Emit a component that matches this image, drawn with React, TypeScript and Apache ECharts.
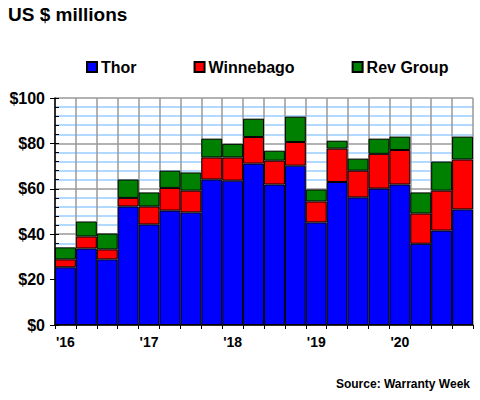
import React, { useEffect, useRef } from "react";
import * as echarts from "echarts";

const categories = [
  "2016Q1", "2016Q2", "2016Q3", "2016Q4",
  "2017Q1", "2017Q2", "2017Q3", "2017Q4",
  "2018Q1", "2018Q2", "2018Q3", "2018Q4",
  "2019Q1", "2019Q2", "2019Q3", "2019Q4",
  "2020Q1", "2020Q2", "2020Q3", "2020Q4",
];
const yearLabels = ["'16", "'17", "'18", "'19", "'20"];
const thor = [25.4, 33.7, 28.9, 52.2, 44.3, 50.4, 49.6, 64.1, 63.6, 71.1, 61.9, 70.2, 45.2, 63.0, 56.2, 60.1, 61.9, 35.8, 41.6, 50.9];
const winnebago = [3.5, 5.3, 4.4, 3.8, 7.9, 10.0, 9.6, 9.7, 10.2, 11.7, 10.5, 10.4, 9.2, 14.7, 11.8, 15.3, 15.2, 13.3, 17.6, 22.0];
const revGroup = [5.3, 6.6, 7.0, 8.1, 6.2, 7.6, 8.0, 8.3, 6.0, 8.1, 4.4, 11.2, 5.3, 3.5, 5.3, 6.7, 5.9, 9.3, 12.8, 10.1];

const FONT = "Arial, 'Liberation Sans', sans-serif";

export default function App() {
  const ref = useRef<HTMLDivElement>(null);
  useEffect(() => {
    if (!ref.current) return;
    const chart = echarts.init(ref.current, undefined, { renderer: "svg" });
    const barStyle = (color: string) => ({
      color,
      borderColor: "#000",
      borderWidth: 1,
    });
    chart.setOption({
      animation: false,
      backgroundColor: "#fff",
      title: [
        {
          text: "US $ millions",
          left: 3,
          top: 0,
          textStyle: { fontFamily: FONT, fontWeight: "bold", fontSize: 19, color: "#000" },
        },
        {
          text: "Source: Warranty Week",
          right: 5,
          top: 373,
          textStyle: { fontFamily: FONT, fontWeight: "bold", fontSize: 12, color: "#000" },
        },
      ],
      legend: {
        left: 81,
        top: 54,
        itemWidth: 10,
        itemHeight: 10,
        itemGap: 57,
        icon: "rect",
        textStyle: { fontFamily: FONT, fontWeight: "bold", fontSize: 16, color: "#000", padding: [0, 0, 0, -1] },
        data: ["Thor", "Winnebago", "Rev Group"],
      },
      grid: { left: 55, right: 7, top: 98, bottom: 75, containLabel: false },
      xAxis: {
        type: "category",
        data: categories,
        boundaryGap: true,
        axisLine: { show: true, lineStyle: { color: "#000", width: 1.5 } },
        axisTick: { show: true, interval: 0, length: 4, lineStyle: { color: "#000" } },
        axisLabel: {
          interval: (i: number) => i % 4 === 0,
          formatter: (_v: string, i: number) => (i % 4 === 0 ? yearLabels[i / 4] : ""),
          fontFamily: FONT,
          fontWeight: "bold",
          fontSize: 14,
          color: "#000",
          margin: 10,
        },
        splitLine: { show: true, interval: 0, lineStyle: { color: "#999", width: 1.5 } },
      },
      yAxis: [
        {
          type: "value",
          min: 0,
          max: 100,
          interval: 20,
          axisLine: { show: true, lineStyle: { color: "#000", width: 1.5 } },
          axisTick: { show: true, inside: true, length: 4, lineStyle: { color: "#000" } },
          minorTick: { show: true, splitNumber: 5, length: 4, lineStyle: { color: "#000" } },
          minorSplitLine: { show: true, lineStyle: { color: "#99ccff", width: 1.5 } },
          splitLine: { show: true, lineStyle: { color: "#999", width: 1.5 } },
          axisLabel: {
            formatter: (v: number) => "$" + v,
            fontFamily: FONT,
            fontWeight: "bold",
            fontSize: 16,
            color: "#000",
            margin: 10,
          },
        },
        {
          type: "value",
          position: "left",
          min: 0,
          max: 100,
          interval: 20,
          axisLine: { show: false },
          axisTick: { show: true, length: 5, lineStyle: { color: "#000" } },
          axisLabel: { show: false },
          splitLine: { show: false },
        },
      ],
      series: [
        { name: "Thor", type: "bar", stack: "t", data: thor, itemStyle: barStyle("#0000ff"), barCategoryGap: 0 },
        { name: "Winnebago", type: "bar", stack: "t", data: winnebago, itemStyle: barStyle("#ff0000"), barCategoryGap: 0 },
        { name: "Rev Group", type: "bar", stack: "t", data: revGroup, itemStyle: barStyle("#008000"), barCategoryGap: 0 },
      ],
    });
    return () => chart.dispose();
  }, []);
  return <div ref={ref} style={{ width: 480, height: 400, position: "absolute", left: 0, top: 0 }} />;
}
